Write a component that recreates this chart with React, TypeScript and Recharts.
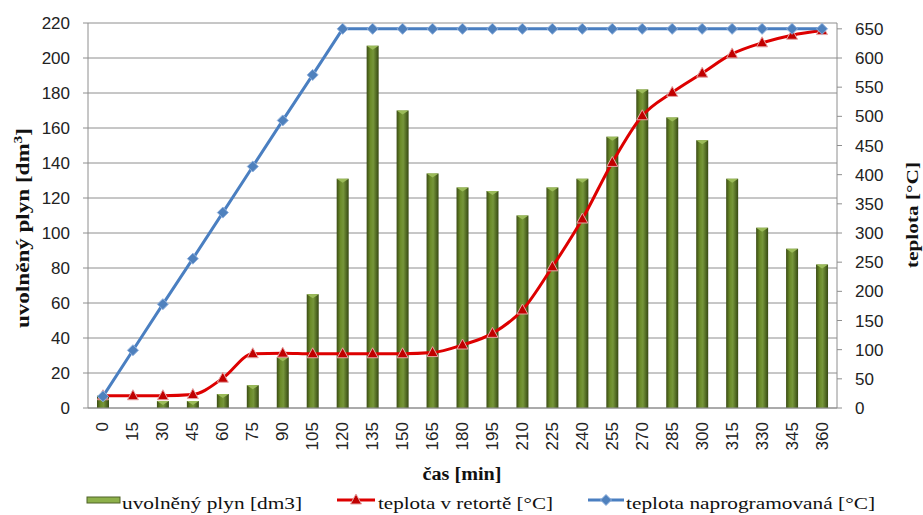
import { ComposedChart, Bar, Line, XAxis, YAxis, CartesianGrid, Legend } from 'recharts';

// time axis [min]
const times = [0, 15, 30, 45, 60, 75, 90, 105, 120, 135, 150, 165, 180, 195, 210, 225, 240, 255, 270, 285, 300, 315, 330, 345, 360];

// released gas [dm3]
const gasValues = [7, 0, 4, 4, 8, 13, 29, 65, 131, 207, 170, 134, 126, 124, 110, 126, 131, 155, 182, 166, 153, 131, 103, 91, 82];

// temperature in retort [°C]
const retortTemps = [21, 21, 21, 23, 51, 93, 94, 93, 93, 93, 93, 95, 108, 128, 168, 242, 324, 421, 501, 541, 574, 607, 626, 639, 647];

// programmed temperature [°C]
const programTemps = [20, 99, 178, 256, 335, 414, 493, 571, 650, 650, 650, 650, 650, 650, 650, 650, 650, 650, 650, 650, 650, 650, 650, 650, 650];

const leftTicks = [0, 20, 40, 60, 80, 100, 120, 140, 160, 180, 200, 220];
const rightTicks = [0, 50, 100, 150, 200, 250, 300, 350, 400, 450, 500, 550, 600, 650];

const data = times.map((t, i) => ({
  t,
  gas: gasValues[i],
  retort: retortTemps[i],
  program: programTemps[i],
}));

const tickFont = { fontFamily: 'Liberation Sans, Arial, sans-serif', fontSize: 17, fill: '#222' };
const serif = 'Liberation Serif, Times New Roman, serif';

const GasBar = (props: any) => {
  const { x, y, width, height } = props;
  if (!height || height <= 0) return null;
  return (
    <g>
      <rect x={x} y={y} width={width} height={height} fill="url(#barGrad)" />
      <polygon
        points={`${x},${y} ${x + width},${y} ${x + width / 2},${y + Math.min(4, height)}`}
        fill="#9bbb59"
      />
    </g>
  );
};

const Triangle = (props: any) => {
  const { cx, cy } = props;
  if (cx == null || cy == null) return null;
  return (
    <polygon
      points={`${cx},${cy - 6} ${cx + 5.5},${cy + 4} ${cx - 5.5},${cy + 4}`}
      fill="#c00000"
      stroke="#e6a3a3"
      strokeWidth={1}
    />
  );
};

const Diamond = (props: any) => {
  const { cx, cy } = props;
  if (cx == null || cy == null) return null;
  return (
    <polygon
      points={`${cx},${cy - 5.5} ${cx + 5.5},${cy} ${cx},${cy + 5.5} ${cx - 5.5},${cy}`}
      fill="#4f81bd"
      stroke="#8fb0dd"
      strokeWidth={1}
    />
  );
};

const TimeTick = (props: any) => {
  const { x, y, payload } = props;
  return (
    <text
      x={x}
      y={y}
      transform={`rotate(-90 ${x} ${y})`}
      textAnchor="end"
      dominantBaseline="central"
      {...tickFont}
    >
      {payload.value}
    </text>
  );
};

const ChartLegend = () => (
  <svg width={923} height={37} style={{ display: 'block' }}>
    <rect x={87} y={19} width={33} height={6} fill="#8db04a" stroke="#4f6228" strokeWidth={1} />
    <text x={122} y={31} fontFamily={serif} fontSize={17} fill="#111" textLength={180} lengthAdjust="spacingAndGlyphs">
      uvolněný plyn [dm3]
    </text>

    <line x1={337} y1={22} x2={375} y2={22} stroke="#dd0000" strokeWidth={3} />
    <polygon points="356,16 361.5,26 350.5,26" fill="#c00000" stroke="#e6a3a3" strokeWidth={1} />
    <text x={378} y={31} fontFamily={serif} fontSize={17} fill="#111" textLength={175} lengthAdjust="spacingAndGlyphs">
      teplota v retortě [°C]
    </text>

    <line x1={588} y1={22} x2={624} y2={22} stroke="#4a7fc1" strokeWidth={3} />
    <polygon points="606,16.5 611.5,22 606,27.5 600.5,22" fill="#4f81bd" stroke="#8fb0dd" strokeWidth={1} />
    <text x={626} y={31} fontFamily={serif} fontSize={17} fill="#111" textLength={249} lengthAdjust="spacingAndGlyphs">
      teplota naprogramovaná [°C]
    </text>
  </svg>
);

export default function App() {
  return (
    <div style={{ position: 'relative', width: 923, height: 515, background: '#fff', overflow: 'hidden' }}>
      <style>{'html,body{margin:0;padding:0;overflow:hidden;}'}</style>
      <ComposedChart
        width={923}
        height={515}
        data={data}
        margin={{ top: 23, right: 0, bottom: 0, left: 0 }}
      >
        <defs>
          <linearGradient id="barGrad" x1="0" y1="0" x2="1" y2="0">
            <stop offset="0%" stopColor="#3a4c14" />
            <stop offset="30%" stopColor="#6a8a28" />
            <stop offset="55%" stopColor="#76963a" />
            <stop offset="100%" stopColor="#364812" />
          </linearGradient>
        </defs>
        <CartesianGrid yAxisId="left" vertical={false} stroke="#8e8e8e" ticks={leftTicks} />
        <XAxis
          dataKey="t"
          height={70}
          interval={0}
          tickLine={false}
          tickSize={0}
          tickMargin={14}
          stroke="#8e8e8e"
          tick={<TimeTick />}
        />
        <YAxis
          yAxisId="left"
          width={88}
          domain={[0, 220]}
          ticks={leftTicks}
          interval={0}
          tickSize={5}
          tickMargin={13}
          stroke="#8e8e8e"
          tick={tickFont}
        />
        <YAxis
          yAxisId="right"
          orientation="right"
          width={86}
          domain={[0, 660]}
          ticks={rightTicks}
          interval={0}
          tickSize={5}
          tickMargin={13}
          stroke="#8e8e8e"
          tick={{ ...tickFont, textAnchor: 'start' }}
        />
        <Legend
          verticalAlign="bottom"
          wrapperStyle={{ left: 0, bottom: 0, width: 923, height: 37 }}
          content={<ChartLegend />}
        />
        <Bar
          yAxisId="left"
          dataKey="gas"
          name="uvolněný plyn [dm3]"
          barSize={12}
          shape={<GasBar />}
          isAnimationActive={false}
        />
        <Line
          yAxisId="right"
          type="monotone"
          dataKey="retort"
          name="teplota v retortě [°C]"
          stroke="#dd0000"
          strokeWidth={3}
          dot={<Triangle />}
          activeDot={false}
          isAnimationActive={false}
        />
        <Line
          yAxisId="right"
          type="linear"
          dataKey="program"
          name="teplota naprogramovaná [°C]"
          stroke="#4a7fc1"
          strokeWidth={3}
          dot={<Diamond />}
          activeDot={false}
          isAnimationActive={false}
        />
      </ComposedChart>
      <svg
        width={923}
        height={515}
        style={{ position: 'absolute', left: 0, top: 0, pointerEvents: 'none' }}
      >
        <text
          x={29}
          y={228}
          transform="rotate(-90 29 228)"
          textAnchor="middle"
          fontFamily={serif}
          fontWeight="bold"
          fontSize={18}
          fill="#111"
          textLength={200}
          lengthAdjust="spacingAndGlyphs"
        >
          uvolněný plyn [dm<tspan baselineShift="super" fontSize={12}>3</tspan>]
        </text>
        <text
          x={918}
          y={215}
          transform="rotate(-90 918 215)"
          textAnchor="middle"
          fontFamily={serif}
          fontWeight="bold"
          fontSize={17}
          fill="#111"
          textLength={106}
          lengthAdjust="spacingAndGlyphs"
        >
          teplota [°C]
        </text>
        <text
          x={462}
          y={480}
          textAnchor="middle"
          fontFamily={serif}
          fontWeight="bold"
          fontSize={18}
          fill="#111"
          textLength={79}
          lengthAdjust="spacingAndGlyphs"
        >
          čas [min]
        </text>
      </svg>
    </div>
  );
}
